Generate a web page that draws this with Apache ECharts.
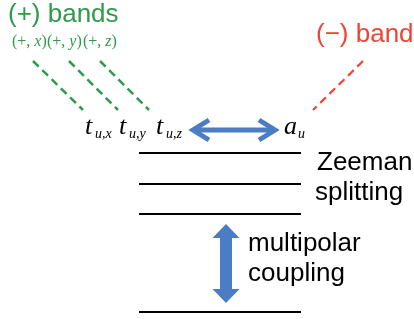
<!DOCTYPE html>
<html>
<head>
<meta charset="utf-8">
<script src="https://cdn.jsdelivr.net/npm/echarts@6/dist/echarts.min.js"></script>
<style>
  html, body { margin: 0; padding: 0; background: #fff; }
  #main { width: 414px; height: 319px; }
</style>
</head>
<body>
<div id="main"></div>
<script>
// diagram units: x to the right, y downward (same span as the picture)
const levelHeights = [153, 184, 214, 312];
const levelSpan = [139, 301];
const plusBandLines = [[33, 61, 83, 110], [69, 61, 118, 110], [100, 61, 149, 110]];
const minusBandLines = [[363, 61, 313, 110]];
const hybridArrow = [[188, 130, 280, 130]];
const couplingArrow = [[226, 224, 226, 303]];

const bandTitles = ['(+) bands', '(−) band'];
const bandTitleAnchors = [[8, 24], [316, 44]];
const plusAxes = ['x', 'y', 'z'];
const plusAxisAnchors = [[12, 47], [47, 47], [83, 47]];
const orbitalNames = ['t', 't', 't', 'a'];
const orbitalSubs = ['u,x', 'u,y', 'u,z', 'u'];
const orbitalAnchors = [[85, 136], [119, 136], [156, 136], [284, 136]];
const sideNotes = ['Zeeman', 'splitting', 'multipolar', 'coupling'];
const sideNoteAnchors = [[317, 172], [315, 202], [248, 253], [248, 283]];

const green = '#2e9a4b';
const red = '#ee4433';
const blue = '#4a7dc4';

const chart = echarts.init(document.getElementById('main'));

function baselineY(api, x, y, fs) {
  const p = api.coord([x, y]);
  return [p[0], p[1] - fs * 0.34];
}

function renderChevronArrow(params, api) {
  const a = api.coord([api.value(0), api.value(1)]);
  const b = api.coord([api.value(2), api.value(3)]);
  const dx = b[0] - a[0], dy = b[1] - a[1];
  const len = Math.hypot(dx, dy);
  const ux = dx / len, uy = dy / len, nx = -uy, ny = ux;
  const L = 16, W = 10, inset = 5;
  const head = (tip, s) => {
    const vx = tip[0] + s * ux * inset, vy = tip[1] + s * uy * inset;
    return [
      [vx + s * ux * L + nx * W, vy + s * uy * L + ny * W],
      [vx, vy],
      [vx + s * ux * L - nx * W, vy + s * uy * L - ny * W]
    ];
  };
  const style = { stroke: blue, lineWidth: 5, fill: null, lineJoin: 'miter' };
  return {
    type: 'group',
    children: [
      { type: 'line', shape: { x1: a[0] + ux * 6, y1: a[1] + uy * 6, x2: b[0] - ux * 6, y2: b[1] - uy * 6 }, style: style },
      { type: 'polyline', shape: { points: head(a, 1) }, style: style },
      { type: 'polyline', shape: { points: head(b, -1) }, style: style }
    ]
  };
}

function renderBlockArrow(params, api) {
  const a = api.coord([api.value(0), api.value(1)]);
  const b = api.coord([api.value(2), api.value(3)]);
  const dx = b[0] - a[0], dy = b[1] - a[1];
  const len = Math.hypot(dx, dy);
  const ux = dx / len, uy = dy / len, nx = -uy, ny = ux;
  const L = 14, H = 13.5, w = 6;
  const pt = (p, along, side) => [p[0] + ux * along + nx * side, p[1] + uy * along + ny * side];
  const points = [
    a, pt(a, L, H), pt(a, L, w), pt(b, -L, w), pt(b, -L, H), b,
    pt(b, -L, -H), pt(b, -L, -w), pt(a, L, -w), pt(a, L, -H)
  ];
  return { type: 'polygon', shape: { points: points }, style: { fill: blue } };
}

function textSeries(data, renderFn) {
  return { type: 'custom', coordinateSystem: 'cartesian2d', data: data, renderItem: renderFn, silent: true, z: 5 };
}

const sans = '"Liberation Sans", Arial, sans-serif';
const serif = '"Liberation Serif", "Times New Roman", serif';

const option = {
  animation: false,
  grid: { left: 0, right: 0, top: 0, bottom: 0 },
  xAxis: { type: 'value', min: 0, max: 414, show: false },
  yAxis: { type: 'value', min: 0, max: 319, inverse: true, show: false },
  series: [
    {
      type: 'lines',
      coordinateSystem: 'cartesian2d',
      silent: true,
      lineStyle: { color: '#000', width: 2, opacity: 1 },
      data: levelHeights.map(y => ({ coords: [[levelSpan[0], y], [levelSpan[1], y]] }))
    },
    {
      type: 'lines',
      coordinateSystem: 'cartesian2d',
      silent: true,
      lineStyle: { color: green, width: 2.5, type: [8, 5], opacity: 1 },
      data: plusBandLines.map(l => ({ coords: [[l[0], l[1]], [l[2], l[3]]] }))
    },
    {
      type: 'lines',
      coordinateSystem: 'cartesian2d',
      silent: true,
      lineStyle: { color: red, width: 2.2, type: [8, 5], opacity: 1 },
      data: minusBandLines.map(l => ({ coords: [[l[0], l[1]], [l[2], l[3]]] }))
    },
    { type: 'custom', coordinateSystem: 'cartesian2d', silent: true, data: hybridArrow, renderItem: renderChevronArrow },
    { type: 'custom', coordinateSystem: 'cartesian2d', silent: true, data: couplingArrow, renderItem: renderBlockArrow },
    textSeries(bandTitleAnchors.map((p, i) => [p[0], p[1], i]), function (params, api) {
      const i = api.value(2);
      const p = baselineY(api, api.value(0), api.value(1), 26);
      return { type: 'text', x: p[0], y: p[1], style: {
        text: bandTitles[i], font: '26px ' + sans, fill: i === 0 ? green : red,
        align: 'left', verticalAlign: 'middle'
      } };
    }),
    textSeries(plusAxisAnchors.map((p, i) => [p[0], p[1], i]), function (params, api) {
      const i = api.value(2);
      const p = baselineY(api, api.value(0), api.value(1), 16);
      return { type: 'text', x: p[0], y: p[1], style: {
        text: '{p|(+, }{v|' + plusAxes[i] + '}{p|)}',
        rich: {
          p: { fontFamily: serif, fontSize: 16, fill: green, color: green },
          v: { fontFamily: serif, fontSize: 16, fontStyle: 'italic', fill: green, color: green }
        },
        align: 'left', verticalAlign: 'middle'
      } };
    }),
    textSeries(orbitalAnchors.map((p, i) => [p[0], p[1], i]), function (params, api) {
      const i = api.value(2);
      const p = baselineY(api, api.value(0), api.value(1), 26);
      const nameW = orbitalNames[i] === 'a' ? 12 : 8;
      return { type: 'group', children: [
        { type: 'text', x: p[0], y: p[1], style: {
          text: orbitalNames[i], font: 'italic 26px ' + serif, fill: '#000',
          align: 'left', verticalAlign: 'middle'
        } },
        { type: 'text', x: p[0] + nameW + 2, y: p[1] + 3 + 26 * 0.34 - 14 * 0.34, style: {
          text: orbitalSubs[i], font: 'italic 14px ' + serif, fill: '#000',
          align: 'left', verticalAlign: 'middle'
        } }
      ] };
    }),
    textSeries(sideNoteAnchors.map((p, i) => [p[0], p[1], i]), function (params, api) {
      const i = api.value(2);
      const p = baselineY(api, api.value(0), api.value(1), 26);
      return { type: 'text', x: p[0], y: p[1], style: {
        text: sideNotes[i], font: '26px ' + sans, fill: '#000',
        align: 'left', verticalAlign: 'middle'
      } };
    })
  ]
};

chart.setOption(option);
</script>
</body>
</html>
